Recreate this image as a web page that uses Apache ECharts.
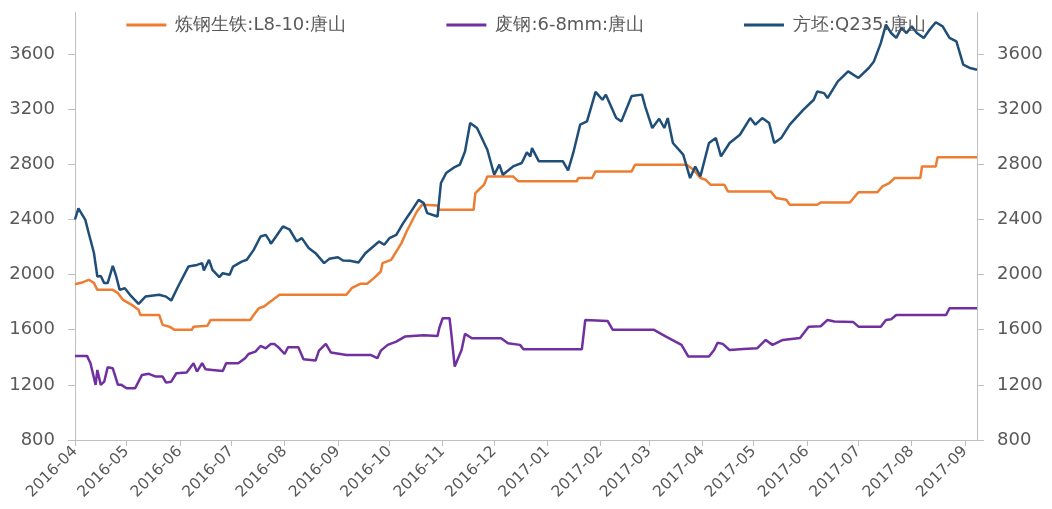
<!DOCTYPE html>
<html>
<head>
<meta charset="utf-8">
<script src="https://cdn.jsdelivr.net/npm/echarts@6/dist/echarts.min.js"></script>
<style>
html,body{margin:0;padding:0;background:#fff;}
#chart{width:1052px;height:509px;}
</style>
</head>
<body>
<div id="chart"></div>
<script>
// Start date of the x axis; each data point is [days since start, value]
const startDate = '2016-04-01';
const endDate = '2017-09-08';
const seriesNames = ['炼钢生铁:L8-10:唐山', '废钢:6-8mm:唐山', '方坯:Q235:唐山'];
const yTicks = [800, 1200, 1600, 2000, 2400, 2800, 3200, 3600];

const pigIron = [
  [0,1930],[4,1942],[8,1962],[11,1940],[13,1889],[22,1889],[25,1865],[28,1816],[33,1780],[37,1744],
  [38,1707],[49,1707],[51,1635],[55,1622],[58,1599],[68,1599],[69,1622],[77,1628],[79,1671],[102,1671],
  [104,1707],[107,1756],[110,1768],[113,1797],[115,1816],[119,1853],[158,1853],[161,1901],[166,1933],
  [170,1933],[174,1974],[178,2022],[179,2083],[184,2107],[187,2167],[190,2228],[193,2312],[196,2385],
  [199,2457],[202,2506],[211,2500],[212,2470],[232,2470],[233,2591],[235,2615],[238,2650],[240,2712],
  [255,2712],[258,2676],[292,2676],[293,2700],[301,2700],[303,2748],[324,2748],[326,2797],[356,2797],
  [360,2760],[364,2700],[367,2688],[370,2651],[378,2651],[380,2603],[405,2603],[408,2555],[414,2542],
  [416,2506],[432,2506],[434,2523],[451,2523],[456,2597],[467,2597],[470,2640],[474,2664],[477,2700],
  [492,2700],[493,2784],[501,2784],[502,2850],[525,2850]
];

const scrap = [
  [0,1410],[7,1410],[9,1357],[12,1200],[13,1308],[15,1200],[17,1223],[19,1327],[22,1320],[25,1200],
  [27,1200],[30,1175],[35,1175],[39,1272],[43,1280],[47,1260],[51,1260],[53,1216],[56,1223],[59,1284],
  [65,1290],[69,1357],[71,1296],[74,1357],[76,1313],[80,1308],[86,1300],[88,1357],[95,1357],[99,1393],
  [101,1424],[105,1441],[108,1482],[111,1465],[114,1497],[116,1497],[119,1465],[122,1424],[124,1473],
  [130,1473],[133,1386],[140,1376],[142,1448],[146,1497],[149,1434],[158,1417],[172,1417],[176,1393],
  [178,1448],[182,1490],[187,1513],[192,1550],[203,1560],[211,1555],[212,1611],[214,1683],[218,1683],
  [219,1575],[221,1333],[225,1453],[227,1570],[231,1538],[248,1538],[252,1502],[259,1490],[261,1458],
  [295,1458],[297,1671],[310,1664],[313,1599],[337,1599],[344,1550],[353,1490],[357,1405],[369,1405],
  [372,1453],[374,1506],[377,1497],[381,1453],[389,1460],[397,1465],[402,1526],[406,1490],[412,1526],
  [422,1540],[427,1622],[434,1625],[438,1671],[442,1660],[453,1655],[456,1622],[469,1622],[472,1671],
  [475,1675],[478,1707],[507,1707],[509,1756],[525,1756]
];

const billet = [
  [0,2400],[2,2480],[6,2397],[8,2300],[11,2158],[13,1986],[15,1990],[17,1938],[19,1938],[22,2063],
  [24,1986],[26,1889],[29,1901],[32,1853],[37,1787],[41,1840],[49,1853],[53,1840],[56,1811],[60,1913],
  [66,2058],[71,2070],[74,2083],[75,2029],[78,2107],[80,2034],[84,1981],[86,2010],[90,1998],[92,2058],
  [97,2094],[100,2107],[104,2179],[108,2276],[111,2288],[113,2250],[114,2223],[117,2276],[121,2349],
  [125,2325],[129,2240],[132,2264],[136,2192],[140,2155],[145,2083],[148,2114],[153,2126],[156,2102],
  [160,2100],[165,2087],[169,2155],[177,2240],[180,2216],[183,2264],[187,2288],[191,2373],[195,2446],
  [200,2542],[203,2518],[205,2446],[211,2421],[213,2664],[216,2736],[221,2780],[224,2797],[227,2893],
  [230,3099],[234,3063],[240,2905],[244,2724],[247,2797],[249,2724],[255,2784],[260,2809],[263,2886],
  [265,2857],[266,2917],[270,2821],[284,2821],[287,2756],[290,2882],[294,3087],[298,3111],[303,3325],
  [307,3268],[309,3305],[315,3135],[318,3111],[324,3295],[330,3305],[332,3215],[336,3063],[340,3130],
  [343,3063],[345,3135],[348,2954],[354,2870],[358,2700],[361,2784],[364,2712],[369,2954],[373,2990],
  [374,2990],[376,2857],[381,2954],[387,3014],[393,3135],[396,3087],[400,3135],[404,3099],[407,2954],
  [411,2990],[416,3087],[424,3196],[430,3268],[432,3328],[436,3316],[438,3280],[444,3401],[450,3474],
  [456,3426],[462,3498],[465,3546],[469,3679],[472,3813],[475,3752],[478,3716],[481,3789],[484,3752],
  [487,3800],[490,3752],[494,3716],[497,3769],[501,3830],[505,3800],[509,3716],[513,3691],[517,3522],
  [521,3498],[525,3486]
];

const DAY = 86400000;
const t0 = new Date(startDate + 'T00:00:00').getTime();
function toTime(arr){ return arr.map(p => [t0 + p[0]*DAY, p[1]]); }

function fmtMonth(v){
  const d = new Date(v);
  const m = d.getMonth()+1;
  return d.getFullYear() + '-' + (m < 10 ? '0' + m : m);
}

const textColor = '#595959';
const axisColor = '#BFBFBF';
const font = 'DejaVu Sans';

const yAxisCommon = {
  type: 'value',
  min: yTicks[0],
  max: 3900,
  interval: 400,
  splitLine: {show: false},
  axisLine: {show: true, lineStyle: {color: axisColor, width: 1}},
  axisTick: {show: true, length: 7, lineStyle: {color: axisColor}},
  axisLabel: {color: textColor, fontSize: 18, fontFamily: font, margin: 20, showMaxLabel: false,
    formatter: v => String(v)}
};

const chart = echarts.init(document.getElementById('chart'));
chart.setOption({
  animation: false,
  backgroundColor: '#fff',
  grid: {left: 75, right: 75, top: 12.6, bottom: 69, containLabel: false},
  legend: {
    top: 11,
    left: 'center',
    icon: 'rect',
    itemWidth: 40,
    itemHeight: 3,
    itemGap: 100,
    textStyle: {color: textColor, fontSize: 18, fontFamily: font, padding: [0, 0, 0, 4]},
    data: seriesNames
  },
  xAxis: {
    type: 'time',
    min: startDate,
    max: endDate,
    splitNumber: 17,
    minInterval: 28*DAY,
    maxInterval: 31*DAY,
    splitLine: {show: false},
    axisLine: {lineStyle: {color: axisColor, width: 1}},
    axisTick: {show: true, length: 6, lineStyle: {color: axisColor}},
    axisLabel: {rotate: 45, color: textColor, fontSize: 15.5, fontFamily: font, margin: 9,
      formatter: fmtMonth, hideOverlap: false, showMinLabel: true, showMaxLabel: false}
  },
  yAxis: [
    Object.assign({}, yAxisCommon, {position: 'left'}),
    Object.assign({}, yAxisCommon, {position: 'right'})
  ],
  series: [
    {name: seriesNames[0], type: 'line', data: toTime(pigIron), showSymbol: false, symbol: 'none',
      lineStyle: {color: '#ED7D31', width: 2.5}, itemStyle: {color: '#ED7D31'}},
    {name: seriesNames[1], type: 'line', data: toTime(scrap), showSymbol: false, symbol: 'none',
      lineStyle: {color: '#7030A0', width: 2.5}, itemStyle: {color: '#7030A0'}},
    {name: seriesNames[2], type: 'line', data: toTime(billet), showSymbol: false, symbol: 'none',
      lineStyle: {color: '#1F4E79', width: 2.5}, itemStyle: {color: '#1F4E79'}}
  ]
});
</script>
</body>
</html>
